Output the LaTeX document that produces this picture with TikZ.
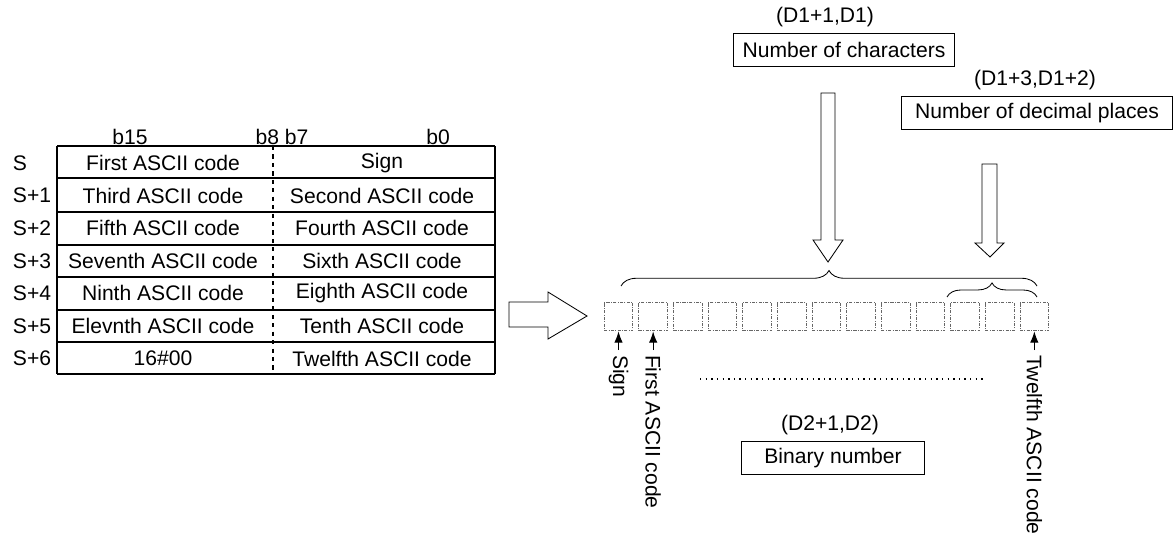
\documentclass[tikz,border=0pt]{standalone}
\usepackage{fontspec}
\setmainfont{Liberation Sans}
\usetikzlibrary{arrows.meta, positioning, decorations.pathreplacing}

\begin{document}
\begin{tikzpicture}[
		x=0.025cm, y=-0.025cm,
		every node/.style={
			font=\fontsize{15}{18}\selectfont
		},
		box/.style={
			draw,
			line width=0.8pt,
			minimum height=0.83cm,
			inner sep=0pt
		},
		cellbox/.style={
			draw=black!60,
			line width=0.6pt,
			dash pattern=on 2.2pt off 1pt on 0.6pt off 1pt,
			minimum width=0.72cm,
			minimum height=0.72cm,
			inner sep=0pt
		},
		grid/.style={
			line width=1pt
		},
		blockarrow/.style={
			draw,
			line width=0.6pt,
			fill=white
		},
		arrow/.style={
			-{Latex[length=8pt,width=6pt]},
			line width=0.8pt
		},
		bracket/.style={
			decorate,
			line width=0.6pt,
			decoration={brace, amplitude=#1}
		}
		]
		\useasboundingbox (0,0) rectangle (1174,540);
		
		% Tabela de registos S
		\foreach \y in {146,178,212,245,277,310,342,374}
			\draw[grid] (57,\y) -- (495,\y);
		\draw[line width=1.6pt] (57,245) -- (495,245);
		\draw[line width=1.6pt] (57,310) -- (495,310);
		\draw[grid] (57,146) -- (57,374);
		\draw[grid] (495,146) -- (495,374);
		\draw[dashed, line width=1.2pt] (273,146) -- (273,374);
		
		% Bits
		\node (b15) at (130,137) {b15};
		\node (b8b7) at (282,137) {b8 b7};
		\node (b0) at (438,137) {b0};
		
		% Linhas
		\foreach \i/\reg/\hi/\lo in {
			0/S/First ASCII code/Sign,
			1/S+1/Third ASCII code/Second ASCII code,
			2/S+2/Fifth ASCII code/Fourth ASCII code,
			3/S+3/Seventh ASCII code/Sixth ASCII code,
			4/S+4/Ninth ASCII code/Eighth ASCII code,
			5/S+5/Elevnth ASCII code/Tenth ASCII code,
			6/S+6/16\#00/Twelfth ASCII code}
		{
			\node[anchor=west] (reg\i) at (8,{163+32.6*\i}) {\reg};
			\node (hi\i) at (163,{163+32.6*\i}) {\hi};
			\node (lo\i) at (382,{163+32.6*\i}) {\lo};
		}
		
		% Seta de conversao
		\draw[blockarrow] (509,302) -- (548,302) -- (548,292) -- (587,316)
			-- (548,339) -- (548,327) -- (509,327) -- cycle;
		
		% Caracteres
		\node[cellbox] (c1) at (618.5,316.5) {};
		\foreach \i [evaluate=\i as \j using int(\i-1)] in {2,...,13}
			\node[cellbox, right=0.125cm of c\j] (c\i) {};
		
		% Chavetas
		\draw[bracket=11pt] (621,286) -- (1037,286);
		\draw[bracket=10pt] (947,297) -- (1037,297);
		
		% Parametros D1
		\node (d1) at (825,17) {(D1+1,D1)};
		\node[box, minimum width=5.53cm] (nchar) at (844,50) {Number of characters};
		\node (d1b) at (1035,80) {(D1+3,D1+2)};
		\node[box, minimum width=6.78cm] (ndec) at (1037,113) {Number of decimal places};
		
		\draw[blockarrow] (821,93) -- (835,93) -- (835,240) -- (843,240)
			-- (828,262) -- (813,240) -- (821,240) -- cycle;
		\draw[blockarrow] (982,164) -- (997,164) -- (997,243) -- (1004,243)
			-- (990,257) -- (975,243) -- (982,243) -- cycle;
		
		% Legendas dos caracteres
		\node[rotate=-90, anchor=west] (lsign) at ([yshift=-0.47cm]c1.south) {Sign};
		\node[rotate=-90, anchor=west] (lfirst) at ([yshift=-0.47cm]c2.south) {First ASCII code};
		\node[rotate=-90, anchor=west] (ltwelfth) at ([yshift=-0.47cm]c13.south) {Twelfth ASCII code};
		
		\draw[arrow] (lsign.west) -- (c1.south);
		\draw[arrow] (lfirst.west) -- (c2.south);
		\draw[arrow] (ltwelfth.west) -- (c13.south);
		
		\draw[line width=1pt, dash pattern=on 1pt off 3pt] (700,379) -- (985,379);
		
		% Resultado D2
		\node (d2) at (830,425) {(D2+1,D2)};
		\node[box, minimum width=4.58cm] (bin) at (833,458) {Binary number};
		
	\end{tikzpicture}
\end{document}
